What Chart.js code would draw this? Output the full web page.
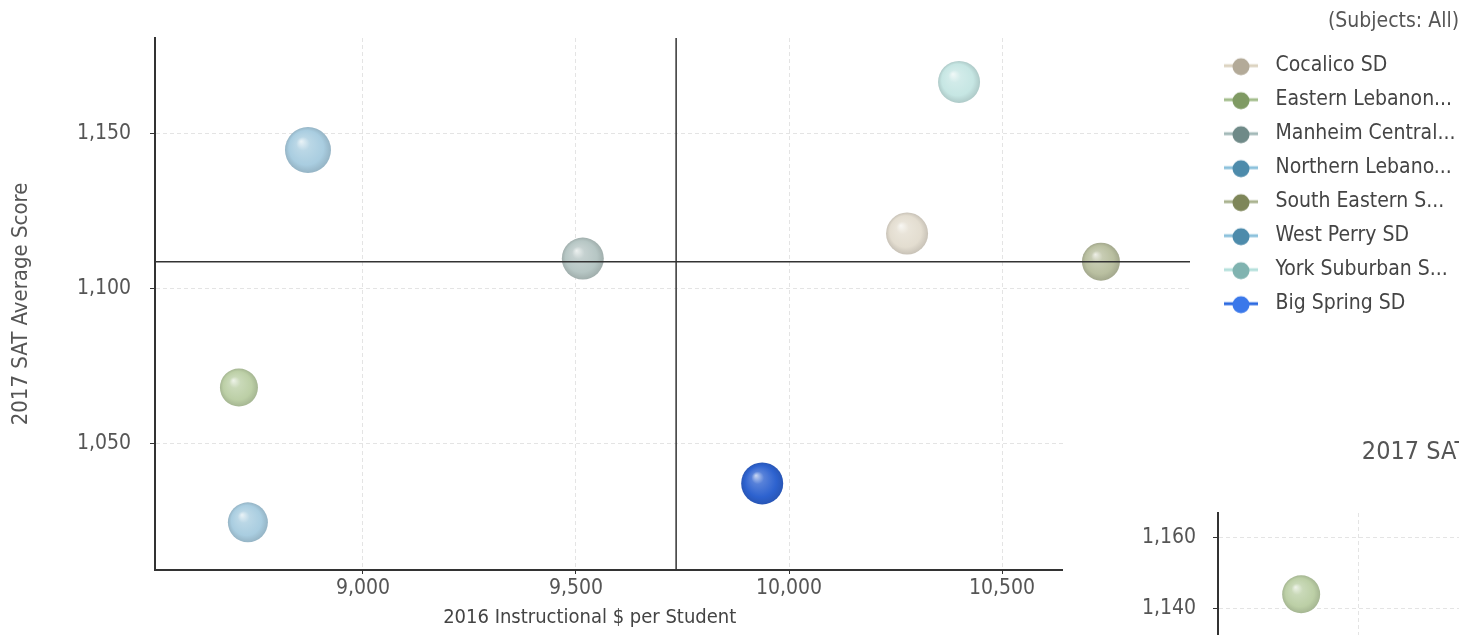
<!DOCTYPE html>
<html>
<head>
<meta charset="utf-8">
<script src="https://cdn.jsdelivr.net/npm/chart.js@4.4.1/dist/chart.umd.min.js"></script>
<style>
  html, body { margin: 0; padding: 0; background: #fff; overflow: hidden; }
  #wrap { position: relative; width: 1459px; height: 635px; overflow: hidden; }
  #main { position: absolute; left: 0; top: 0; }
  #panel { position: absolute; left: 1063px; top: 400px; width: 396px; height: 235px; overflow: hidden; background: #fff; }
</style>
</head>
<body>
<div id="wrap">
  <canvas id="main" width="1459" height="635"></canvas>
  <div id="panel"><canvas id="side" width="704" height="400"></canvas></div>
</div>
<script>
// ===============================
//  DATA
// ===============================
const districts = ["Cocalico SD", "Eastern Lebanon...", "Manheim Central...", "Northern Lebano...",
                   "South Eastern S...", "West Perry SD", "York Suburban S...", "Big Spring SD"];
const spending  = [10277, 8709, 9516, 8730, 10732, 8871, 10399, 9937];   // 2016 instructional $ per student
const satScores = [1117.8, 1068, 1109.7, 1024.4, 1108.7, 1144.8, 1166.8, 1037];
const bubbleR   = [21, 19, 21, 20, 19, 23, 21, 21];

const xTicks = [9000, 9500, 10000, 10500];
const yTicks = [1050, 1100, 1150];
const xRange = [8512, 10941];
const yRange = [1009, 1181];
const avgSpending = 9735;    // vertical reference line
const avgScore = 1108.7;     // horizontal reference line

// second (cut off) chart
const sideTitle = "2017 SAT";
const sidePos = [0.59];
const sideScores = [1144];
const sideR = [19];
const sideXTicks = [1, 2, 3];
const sideYTicks = [1100, 1120, 1140, 1160];
const sideXRange = [0, 3.76];
const sideYRange = [1094.6, 1166.8];

// colours
const bubbleColors = ["#e3ddd0", "#bccfa6", "#b6c6c4", "#a9cde0", "#b9bfa0", "#a9cde0", "#c6e6e3", "#2d62cf"];
const legendLine   = ["#dcd3c0", "#a3bd8c", "#a3b9b8", "#8cc1dc", "#aab38f", "#8cc1dc", "#b5e0dc", "#2c6ae0"];
const legendDot    = ["#b3aa98", "#7f9a63", "#6f8a88", "#4d8bab", "#7e8659", "#4d8bab", "#80b3b0", "#3a78ea"];

const FONT = "'Liberation Sans Narrow', 'DejaVu Sans Condensed', Roboto, sans-serif";
Chart.defaults.font.family = FONT;

// ===============================
//  HELPERS
// ===============================
function mix(hex, target, t) {
  const n = parseInt(hex.slice(1), 16);
  const r = (n >> 16) & 255, g = (n >> 8) & 255, b = n & 255;
  const m = v => Math.round(v + (target - v) * t);
  return `rgb(${m(r)},${m(g)},${m(b)})`;
}

// shaded sphere look for bubbles
function sphere(base) {
  return (ctx) => {
    if (ctx.type !== 'data') return base;
    const chart = ctx.chart;
    if (!chart.chartArea) return base;
    const cx = chart.scales.x.getPixelForValue(ctx.raw.x);
    const cy = chart.scales.y.getPixelForValue(ctx.raw.y);
    const r = ctx.raw.r;
    const g = chart.ctx.createRadialGradient(cx - r * 0.3, cy - r * 0.38, 0, cx, cy, r);
    g.addColorStop(0, mix(base, 255, 0.75));
    g.addColorStop(0.3, mix(base, 255, 0.2));
    g.addColorStop(0.75, base);
    g.addColorStop(1, mix(base, 0, 0.12));
    return g;
  };
}

// legend symbol: short line with a dot
function legendMark(line, dot) {
  const c = document.createElement('canvas');
  c.width = 62; c.height = 24;
  const g = c.getContext('2d');
  g.strokeStyle = line; g.lineWidth = 3;
  g.beginPath(); g.moveTo(21, 12); g.lineTo(55, 12); g.stroke();
  g.fillStyle = dot;
  g.beginPath(); g.arc(38, 13, 8.5, 0, Math.PI * 2); g.fill();
  return c;
}
const marks = districts.map((d, i) => legendMark(legendLine[i], legendDot[i]));

const fmt = v => Number(v).toLocaleString('en-US');
const fixTicks = list => (s => { s.ticks = list.map(v => ({ value: v })); });

// x axis title placed under the visible part of the axis
const xTitlePlugin = {
  id: 'xTitle',
  afterDraw(chart, args, opts) {
    const { ctx, chartArea } = chart;
    ctx.save();
    ctx.font = `${opts.size}px ${FONT}`;
    ctx.fillStyle = opts.color;
    ctx.textAlign = 'center';
    ctx.textBaseline = 'middle';
    ctx.fillText(opts.text, chartArea.left + chartArea.width * opts.shift, chartArea.bottom + opts.offset);
    ctx.restore();
  }
};

// ===============================
//  MAIN CHART
// ===============================
const datasets = districts.map((d, i) => ({
  label: d,
  data: [{ x: spending[i], y: satScores[i], r: bubbleR[i] }],
  backgroundColor: sphere(bubbleColors[i]),
  borderWidth: 0,
  order: 0
}));

datasets.push({
  type: 'line',
  label: 'avgSpending',
  data: [{ x: avgSpending, y: yRange[0] }, { x: avgSpending, y: yRange[1] }],
  borderColor: '#333', borderWidth: 1.5, pointRadius: 0, order: -1
});
datasets.push({
  type: 'line',
  label: 'avgScore',
  data: [{ x: xRange[0], y: avgScore }, { x: xRange[1], y: avgScore }],
  borderColor: '#333', borderWidth: 1.5, pointRadius: 0, order: -1
});

new Chart(document.getElementById('main'), {
  type: 'bubble',
  data: { datasets },
  plugins: [xTitlePlugin],
  options: {
    responsive: false,
    animation: false,
    events: [],
    layout: { padding: { left: 0, right: 0, top: 0, bottom: 0 } },
    scales: {
      x: {
        type: 'linear',
        min: xRange[0], max: xRange[1],
        afterFit: s => { s.height = 65; },
        afterBuildTicks: fixTicks(xTicks),
        ticks: { color: '#555', font: { size: 21 }, padding: 2, callback: fmt },
        grid: { color: '#e4e4e4', tickColor: '#333', tickLength: 4, tickBorderDash: [] },
        border: { color: '#333', width: 2, dash: [4, 3] }
      },
      y: {
        type: 'linear',
        min: yRange[0], max: yRange[1],
        afterFit: s => { s.width = 155; },
        afterBuildTicks: fixTicks(yTicks),
        ticks: { color: '#555', font: { size: 21 }, padding: 19, callback: fmt },
        grid: { color: '#e4e4e4', tickColor: '#333', tickLength: 5, tickBorderDash: [] },
        border: { color: '#333', width: 2, dash: [4, 3] },
        title: { display: true, text: '2017 SAT Average Score', color: '#555', font: { size: 22 }, padding: { top: 8, bottom: 0 } }
      }
    },
    plugins: {
      title: { display: true, text: '', padding: { top: 37, bottom: 0 }, font: { size: 1, lineHeight: 1 } },
      tooltip: { enabled: false },
      legend: {
        position: 'right',
        align: 'start',
        maxWidth: 269,
        title: { display: true, text: '(Subjects: All)', position: 'end', color: '#555', font: { size: 21 }, padding: { top: 11, bottom: 6 } },
        labels: {
          usePointStyle: true,
          pointStyleWidth: 62,
          boxHeight: 24,
          padding: 13,
          font: { size: 21, lineHeight: 1 },
          color: '#444',
          generateLabels: () => districts.map((d, i) => ({
            text: d,
            pointStyle: marks[i],
            fillStyle: legendDot[i],
            strokeStyle: legendDot[i],
            lineWidth: 0,
            fontColor: '#444',
            hidden: false,
            datasetIndex: i
          }))
        }
      },
      xTitle: { text: '2016 Instructional $ per Student', size: 20, color: '#444', shift: 0.42, offset: 48 }
    }
  }
});

// ===============================
//  SIDE CHART (cut off at page edge)
// ===============================
new Chart(document.getElementById('side'), {
  type: 'bubble',
  data: {
    datasets: [{
      label: districts[1],
      data: sidePos.map((p, i) => ({ x: p, y: sideScores[i], r: sideR[i] })),
      backgroundColor: sphere(bubbleColors[1]),
      borderWidth: 0
    }]
  },
  options: {
    responsive: false,
    animation: false,
    events: [],
    layout: { padding: 0 },
    scales: {
      x: {
        type: 'linear',
        min: sideXRange[0], max: sideXRange[1],
        afterFit: s => { s.height = 20; },
        afterBuildTicks: fixTicks(sideXTicks),
        ticks: { display: false },
        grid: { color: '#e4e4e4', drawTicks: false },
        border: { display: false, dash: [4, 3] }
      },
      y: {
        type: 'linear',
        min: sideYRange[0], max: sideYRange[1],
        afterFit: s => { s.width = 155; },
        afterBuildTicks: fixTicks(sideYTicks),
        ticks: { color: '#555', font: { size: 21 }, padding: 17, callback: fmt },
        grid: { color: '#e4e4e4', tickColor: '#333', tickLength: 5, tickBorderDash: [] },
        border: { color: '#333', width: 2, dash: [4, 3] }
      }
    },
    plugins: {
      legend: { display: false },
      tooltip: { enabled: false },
      title: { display: true, text: sideTitle, color: '#555', font: { size: 25, weight: 'normal' }, padding: { top: 37, bottom: 46 } }
    }
  }
});
</script>
</body>
</html>
